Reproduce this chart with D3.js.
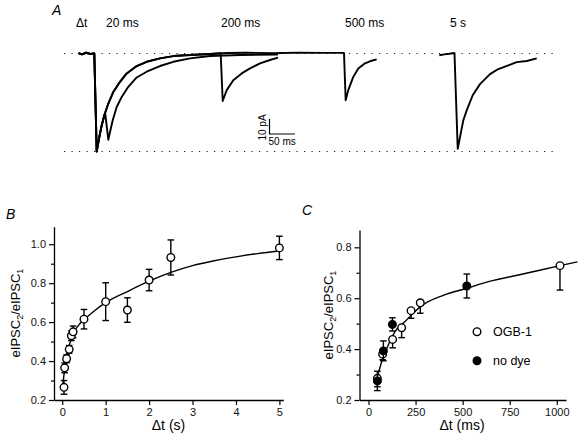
<!DOCTYPE html>
<html><head><meta charset="utf-8">
<script src="https://cdn.jsdelivr.net/npm/d3@7"></script>
<style>
body{margin:0;background:#fff;}
svg{display:block;font-family:Arial,"Liberation Sans",Helvetica,sans-serif;}
</style></head>
<body><svg id="c" width="584" height="439"></svg>
<script>
// ---------- Panel A: current traces (t in ms relative to stimulus 1, I in pA) ----------
const trace20 = [[-31,0.3],[-24,-0.6],[-16,0.5],[-8,-0.3],[0,0],[4.7,-65],[9.8,-55.5],[14.5,-47.7],[19.6,-41],[21.5,-40],[27.5,-57.2],[30.8,-52.1],[36.1,-44.3],[43.9,-35.5],[53.7,-28.8],[66.7,-22.1],[83.1,-15.9],[102.7,-12.1],[128.8,-8.3],[154.9,-5.5],[187.6,-3.2],[227,-1.7],[285.7,-1],[360,-0.7]];
const trace200 = [[-31,0.3],[-24,-0.6],[-16,0.5],[-8,-0.3],[0,0],[4.7,-65],[9.8,-55.5],[14.5,-47.7],[19.6,-41],[27.5,-33.2],[37.3,-25.5],[50.4,-18.8],[63.5,-13.2],[83.1,-8.3],[102.7,-5.5],[128.8,-3.2],[154.9,-1.7],[187.6,-1],[227,-0.3],[247.8,0.2],[251.8,-31.5],[259.6,-24.3],[272.5,-17.7],[289,-13.2],[305.3,-9.9],[324.9,-6.5],[344.5,-4.3],[360.2,-2.7]];
const trace500 = [[-31,0.3],[-24,-0.6],[-16,0.5],[-8,-0.3],[0,0],[4.7,-65],[9.8,-55.5],[14.5,-47.7],[19.6,-41],[27.5,-33.2],[37.3,-25.5],[50.4,-18.8],[63.5,-13.2],[83.1,-8.3],[102.7,-5.5],[128.8,-3.2],[154.9,-1.7],[187.6,-1],[227,-0.3],[260,0.3],[300,0.5],[350,0.2],[400,0.6],[450,0.4],[489.6,0.4],[492.9,-31],[498,-24.3],[507.8,-15.5],[517.6,-9.9],[530.8,-6.5],[543.9,-4.8],[553.7,-3.9]];
const trace5s = [[-29.8,-1.2],[-20,-0.6],[-10,-0.2],[-1,0.3],[0,0.2],[6.3,-63.2],[10.8,-55.5],[17.3,-44.3],[23.9,-37.7],[35.7,-27.7],[50,-20.3],[69.6,-13.7],[85.9,-10.3],[99,-8.7],[122,-5.7],[141.6,-5],[161.2,-3.2]];
const traceLabels = ["20 ms","200 ms","500 ms","5 s"];
const refLevels = [0,-65];          // pA, dotted reference lines
const scaleBar = {pA:10, ms:50};

// ---------- Panel B ----------
const bX   = [0.04,0.055,0.1,0.16,0.21,0.25,0.5,1.0,1.5,2.0,2.5,5.0];
const bY   = [0.265,0.365,0.412,0.46,0.53,0.55,0.615,0.705,0.662,0.816,0.932,0.981];
const bErr = [0.035,0.025,0.02,0.02,0.025,0.03,0.05,0.097,0.063,0.055,0.09,0.06];
const bFitX = [0.01,0.05,0.1,0.15,0.2,0.3,0.4,0.5,0.75,1,1.5,2,2.5,3,3.5,4,4.5,5];
const bFitY = [0.27,0.35,0.42,0.47,0.51,0.56,0.59,0.612,0.66,0.70,0.757,0.81,0.855,0.89,0.915,0.935,0.952,0.965];
const bYTicks = [0.2,0.4,0.6,0.8,1.0];
const bYMinor = [0.3,0.5,0.7,0.9];
const bXTicks = [0,1,2,3,4,5];

// ---------- Panel C ----------
const cOpenX = [47,75,128,176,226,275,1017];
const cOpenY = [0.285,0.38,0.438,0.484,0.551,0.582,0.728];
const cOpenErr = [0.033,0.022,0.033,0.039,0.03,0.041,0.096];
const cFillX = [47,79,127,522];
const cFillY = [0.275,0.393,0.497,0.648];
const cFillErr = [0.038,0.039,0.026,0.047];
const cFitX = [35,50,70,105,140,194,247,282,400,522,637,814,1017,1110];
const cFitY = [0.266,0.30,0.35,0.416,0.468,0.508,0.548,0.57,0.612,0.639,0.665,0.694,0.728,0.743];
const cYTicks = [0.2,0.4,0.6,0.8];
const cYMinor = [0.3,0.5,0.7];
const cXTicks = [0,250,500,750,1000];
const cLegend = ["OGB-1","no dye"];

const svg = d3.select("#c");
const FONT = 11;

// ===== Panel A =====
const xA  = d3.scaleLinear().domain([0,100]).range([94.3,145.3]);
const xA5 = d3.scaleLinear().domain([0,100]).range([454.5,505.5]);
const yA  = d3.scaleLinear().domain([0,-65]).range([53.5,151.5]);
const gA = svg.append("g");
refLevels.forEach(v=>{
  gA.append("line").attr("x1",64).attr("x2",556).attr("y1",yA(v)).attr("y2",yA(v))
    .attr("stroke","#222").attr("stroke-width",1.2).attr("stroke-dasharray","1.2 6.3");
});
const lineA = d3.line().x(d=>xA(d[0])).y(d=>yA(d[1]));
const lineA5 = d3.line().x(d=>xA5(d[0])).y(d=>yA(d[1]));
[trace500,trace200,trace20].forEach(tr=>{
  gA.append("path").attr("d",lineA(tr)).attr("fill","none").attr("stroke","#000").attr("stroke-width",1.9).attr("stroke-linejoin","round");
});
gA.append("path").attr("d",lineA5(trace5s)).attr("fill","none").attr("stroke","#000").attr("stroke-width",1.9).attr("stroke-linejoin","round");
// scale bar
const sbX=269.5, sbY=134;
const sbW = xA(scaleBar.ms)-xA(0), sbH = yA(-scaleBar.pA)-yA(0);
gA.append("path").attr("d",`M${sbX},${sbY-sbH}V${sbY}H${sbX+sbW}`).attr("fill","none").attr("stroke","#000").attr("stroke-width",1.2);
gA.append("text").attr("x",sbX-3).attr("y",sbY-sbH/2+1).attr("transform",`rotate(-90,${sbX-3},${sbY-sbH/2+1})`)
  .attr("text-anchor","middle").attr("font-size",10).text(scaleBar.pA+" pA");
gA.append("text").attr("x",sbX-1).attr("y",sbY+11).attr("font-size",10).text(scaleBar.ms+" ms");
// labels
svg.append("text").attr("x",52).attr("y",15).attr("font-size",14).attr("font-style","italic").text("A");
svg.append("text").attr("x",76).attr("y",27).attr("font-size",12).text("\u0394t");
const labX=[106,221,345,450];
traceLabels.forEach((t,i)=>svg.append("text").attr("x",labX[i]).attr("y",27).attr("font-size",12).text(t));

// ===== helpers =====
function axes(g,x,y,xt,yt,ymin,axY){
  const ax = g.append("g").attr("transform",`translate(0,${axY})`)
    .call(d3.axisBottom(x).tickValues(xt).tickSize(5).tickSizeOuter(0).tickPadding(3).tickFormat(d3.format("d")));
  const ay = g.append("g").attr("transform",`translate(${x.range()[0]},0)`)
    .call(d3.axisLeft(y).tickValues(yt).tickSize(5).tickSizeOuter(0).tickPadding(3).tickFormat(d3.format(".1f")));
  g.append("g").attr("transform",`translate(${x.range()[0]},0)`)
    .call(d3.axisLeft(y).tickValues(ymin).tickSize(3).tickSizeOuter(0).tickFormat(""))
    .select(".domain").remove();
  [ax,ay].forEach(a=>{
    a.select(".domain").attr("stroke","#000").attr("stroke-width",1.3);
    a.selectAll("text").attr("font-size",FONT).attr("fill","#111").attr("font-family","Arial,'Liberation Sans',sans-serif");
  });
  g.selectAll(".tick line").attr("stroke","#000").attr("stroke-width",1.2);
}
function ylabel(g,cx,cy){
  const t = g.append("text").attr("transform",`translate(${cx},${cy}) rotate(-90)`).attr("text-anchor","middle").attr("font-size",13);
  t.append("tspan").text("eIPSC");
  t.append("tspan").attr("font-size",9).attr("dy",3).text("2");
  t.append("tspan").attr("dy",-3).text("/eIPSC");
  t.append("tspan").attr("font-size",9).attr("dy",3).text("1");
}
function errbars(g,x,y,xs,ys,es,up,down){
  xs.forEach((xv,i)=>{
    const top = up? ys[i]+es[i] : ys[i], bot = down? ys[i]-es[i] : ys[i];
    g.append("line").attr("x1",x(xv)).attr("x2",x(xv)).attr("y1",y(top)).attr("y2",y(bot)).attr("stroke","#000").attr("stroke-width",1.4);
    if(up) g.append("line").attr("x1",x(xv)-3.3).attr("x2",x(xv)+3.3).attr("y1",y(top)).attr("y2",y(top)).attr("stroke","#000").attr("stroke-width",1.4);
    if(down) g.append("line").attr("x1",x(xv)-3.3).attr("x2",x(xv)+3.3).attr("y1",y(bot)).attr("y2",y(bot)).attr("stroke","#000").attr("stroke-width",1.4);
  });
}

// ===== Panel B =====
const xB = d3.scaleLinear().domain([-0.19,5.09]).range([54,283.3]);
const yB = d3.scaleLinear().domain([0.2,1.09]).range([400,226.7]);
const gB = svg.append("g");
axes(gB,xB,yB,bXTicks,bYTicks,bYMinor,400);
gB.append("path").attr("d",d3.line().curve(d3.curveMonotoneX).x((d,i)=>xB(bFitX[i])).y((d,i)=>yB(bFitY[i]))(bFitX))
  .attr("fill","none").attr("stroke","#000").attr("stroke-width",1.4);
errbars(gB,xB,yB,bX,bY,bErr,true,true);
gB.selectAll("circle.b").data(bX).join("circle").attr("cx",d=>xB(d)).attr("cy",(d,i)=>yB(bY[i])).attr("r",3.8)
  .attr("fill","#fff").attr("stroke","#000").attr("stroke-width",1.4);
svg.append("text").attr("x",6).attr("y",219).attr("font-size",14).attr("font-style","italic").text("B");
ylabel(svg,20,313);
svg.append("text").attr("x",168.5).attr("y",430).attr("text-anchor","middle").attr("font-size",14).text("\u0394t (s)");

// ===== Panel C =====
const xC = d3.scaleLinear().domain([-47.8,1049]).range([359.5,566]);
const yC = d3.scaleLinear().domain([0.2,0.868]).range([400,230]);
const gC = svg.append("g");
axes(gC,xC,yC,cXTicks,cYTicks,cYMinor,400);
gC.append("path").attr("d",d3.line().curve(d3.curveMonotoneX).x((d,i)=>xC(cFitX[i])).y((d,i)=>yC(cFitY[i]))(cFitX))
  .attr("fill","none").attr("stroke","#000").attr("stroke-width",1.4);
errbars(gC,xC,yC,cOpenX,cOpenY,cOpenErr,false,true);
gC.selectAll("circle.o").data(cOpenX).join("circle").attr("cx",d=>xC(d)).attr("cy",(d,i)=>yC(cOpenY[i])).attr("r",3.8)
  .attr("fill","#fff").attr("stroke","#000").attr("stroke-width",1.4);
const gF = gC.append("g");
errbars(gF,xC,yC,cFillX,cFillY,cFillErr,true,true);
gF.selectAll("circle").data(cFillX).join("circle").attr("cx",d=>xC(d)).attr("cy",(d,i)=>yC(cFillY[i])).attr("r",3.8)
  .attr("fill","#000").attr("stroke","#000").attr("stroke-width",1.4);
// legend
cLegend.forEach((t,i)=>{
  const ly = 331.7 + i*29;
  svg.append("circle").attr("cx",477).attr("cy",ly).attr("r",3.8).attr("fill",i? "#000":"#fff").attr("stroke","#000").attr("stroke-width",1.4);
  svg.append("text").attr("x",493).attr("y",ly+4.5).attr("font-size",12.5).text(t);
});
svg.append("text").attr("x",302).attr("y",215).attr("font-size",14).attr("font-style","italic").text("C");
ylabel(svg,333,315);
svg.append("text").attr("x",462).attr("y",430).attr("text-anchor","middle").attr("font-size",14).text("\u0394t (ms)");
</script></body></html>
